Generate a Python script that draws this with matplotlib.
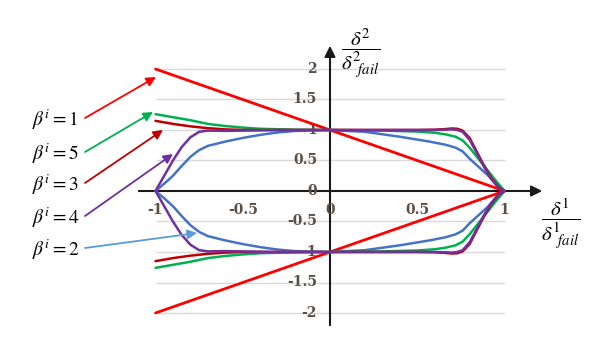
import numpy as np
import matplotlib.pyplot as plt

plt.rcParams['mathtext.fontset'] = 'stix'

# upper half of each curve (lower half is the mirror image)
x_b1 = [-1, 0, 1]
y_b1 = [2, 1, 0]

x_b2 = [-1, -0.95, -0.9, -0.85, -0.8, -0.75, -0.7, -0.6, -0.5, -0.4, -0.3, -0.2, 0,
        0.2, 0.4, 0.57, 0.66, 0.72, 0.76, 0.8, 0.85, 0.9, 0.95, 1]
y_b2 = [0, 0.12, 0.25, 0.41, 0.56, 0.67, 0.74, 0.81, 0.87, 0.92, 0.96, 0.985, 1,
        0.97, 0.89, 0.81, 0.76, 0.71, 0.65, 0.53, 0.4, 0.27, 0.13, 0]

x_b5 = [-1, -0.9, -0.8, -0.7, -0.6, -0.5, -0.4, -0.2, 0, 0.3, 0.5, 0.6, 0.66, 0.72,
        0.76, 0.8, 0.85, 0.9, 0.95, 1]
y_b5 = [1.26, 1.21, 1.16, 1.1, 1.065, 1.04, 1.02, 1.005, 1, 0.99, 0.975, 0.955, 0.93, 0.89,
        0.83, 0.71, 0.53, 0.35, 0.17, 0]

x_b3 = [-1, -0.9, -0.8, -0.7, -0.6, -0.5, -0.3, 0, 0.3, 0.5, 0.6, 0.66, 0.7, 0.73,
        0.76, 0.8, 0.84, 0.88, 0.92, 0.96, 1]
y_b3 = [1.15, 1.1, 1.06, 1.03, 1.01, 1.0, 1.0, 1, 1.0, 1.0, 1.005, 1.015, 1.025, 1.02,
        0.99, 0.87, 0.65, 0.43, 0.23, 0.08, 0]

x_b4 = [-1, -0.95, -0.9, -0.85, -0.8, -0.75, -0.7, -0.6, -0.5, -0.3, 0, 0.3, 0.5, 0.6,
        0.66, 0.7, 0.73, 0.76, 0.8, 0.84, 0.88, 0.92, 0.96, 1]
y_b4 = [0, 0.25, 0.5, 0.72, 0.88, 0.97, 0.99, 0.985, 0.99, 1.0, 1, 1, 1.0, 1.0,
        1.005, 1.01, 1.0, 0.97, 0.84, 0.63, 0.41, 0.21, 0.07, 0]

curves = [
    (x_b1, y_b1, '#FF0000', 2.0),
    (x_b2, y_b2, '#4472C4', 1.8),
    (x_b5, y_b5, '#00B050', 1.8),
    (x_b3, y_b3, '#C00000', 1.8),
    (x_b4, y_b4, '#7030A0', 1.8),
]

grid_y = [-2, -1.5, -1, -0.5, 0.5, 1, 1.5, 2]
y_ticks = [-2, -1.5, -1, -0.5, 0, 0.5, 1, 1.5, 2]
y_tick_labels = ['-2', '-1.5', '-1', '-0.5', '0', '0.5', '1', '1.5', '2']
x_ticks = [-1, -0.5, 0, 0.5, 1]
x_tick_labels = ['-1', '-0.5', '0', '0.5', '1']

# legend labels: text, colour, arrow start (px), arrow tip (px)
legend_text = [r'$\beta^i = 1$', r'$\beta^i = 5$', r'$\beta^i = 3$', r'$\beta^i = 4$', r'$\beta^i = 2$']
legend_color = ['#FF0000', '#00B050', '#C00000', '#7030A0', '#5B9BD5']
legend_y_px = [120, 154, 185, 218, 250]
arrow_tip_px = [(156, 77), (153, 112), (163, 130), (173, 154), (197, 233)]

fig = plt.figure(figsize=(6.1, 3.58), dpi=100)
ax = fig.add_axes([0, 0, 1, 1])

# pixel mapping of the reference: x0=330px, 174.5px/unit ; y0=191px, 61px/unit
def px2x(px):
    return (px - 330) / 174.5

def py2y(py):
    return (191 - py) / 61

ax.set_xlim(px2x(0), px2x(610))
ax.set_ylim(py2y(358), py2y(0))
ax.axis('off')

ax.hlines(grid_y, -1, 1, color='#D9D9D9', lw=1, zorder=0)

# axes with arrows
ax.annotate('', xy=(px2x(545), 0), xytext=(px2x(136), 0),
            arrowprops=dict(arrowstyle='-|>', color='#1a1a1a', lw=1.5, mutation_scale=16), zorder=1)
ax.annotate('', xy=(0, py2y(43)), xytext=(0, py2y(328)),
            arrowprops=dict(arrowstyle='-|>', color='#1a1a1a', lw=1.5, mutation_scale=16), zorder=1)

for xs, ys, c, lw in curves:
    ax.plot(xs, ys, color=c, lw=lw, zorder=3, solid_capstyle='round')
    ax.plot(xs, -np.array(ys), color=c, lw=lw, zorder=3, solid_capstyle='round')

tick_font = dict(family='DejaVu Serif', weight='bold', size=10, color='#5a5048')
for v, lab in zip(y_ticks, y_tick_labels):
    ax.text(px2x(317), v, lab, ha='right', va='center', zorder=2, **tick_font)
for v, lab in zip(x_ticks, x_tick_labels):
    ax.text(v, py2y(210), lab, ha='center', va='center', zorder=2, **tick_font)

ax.text(px2x(361), py2y(54), r'$\dfrac{\delta^2}{\delta^2_{\ \ fail}}$', ha='center', va='center',
        fontsize=15)
ax.text(px2x(561), py2y(224), r'$\dfrac{\delta^1}{\delta^1_{\ \ fail}}$', ha='center', va='center',
        fontsize=15)

for t, c, ypx, tip in zip(legend_text, legend_color, legend_y_px, arrow_tip_px):
    ax.text(px2x(32), py2y(ypx), t, ha='left', va='center', fontsize=14)
    ax.annotate('', xy=(px2x(tip[0]), py2y(tip[1])), xytext=(px2x(85), py2y(ypx - 2)),
                arrowprops=dict(arrowstyle='-|>', color=c, lw=1.3, mutation_scale=14,
                                shrinkA=0, shrinkB=0), zorder=4)

fig.savefig('out.png', dpi=100)
